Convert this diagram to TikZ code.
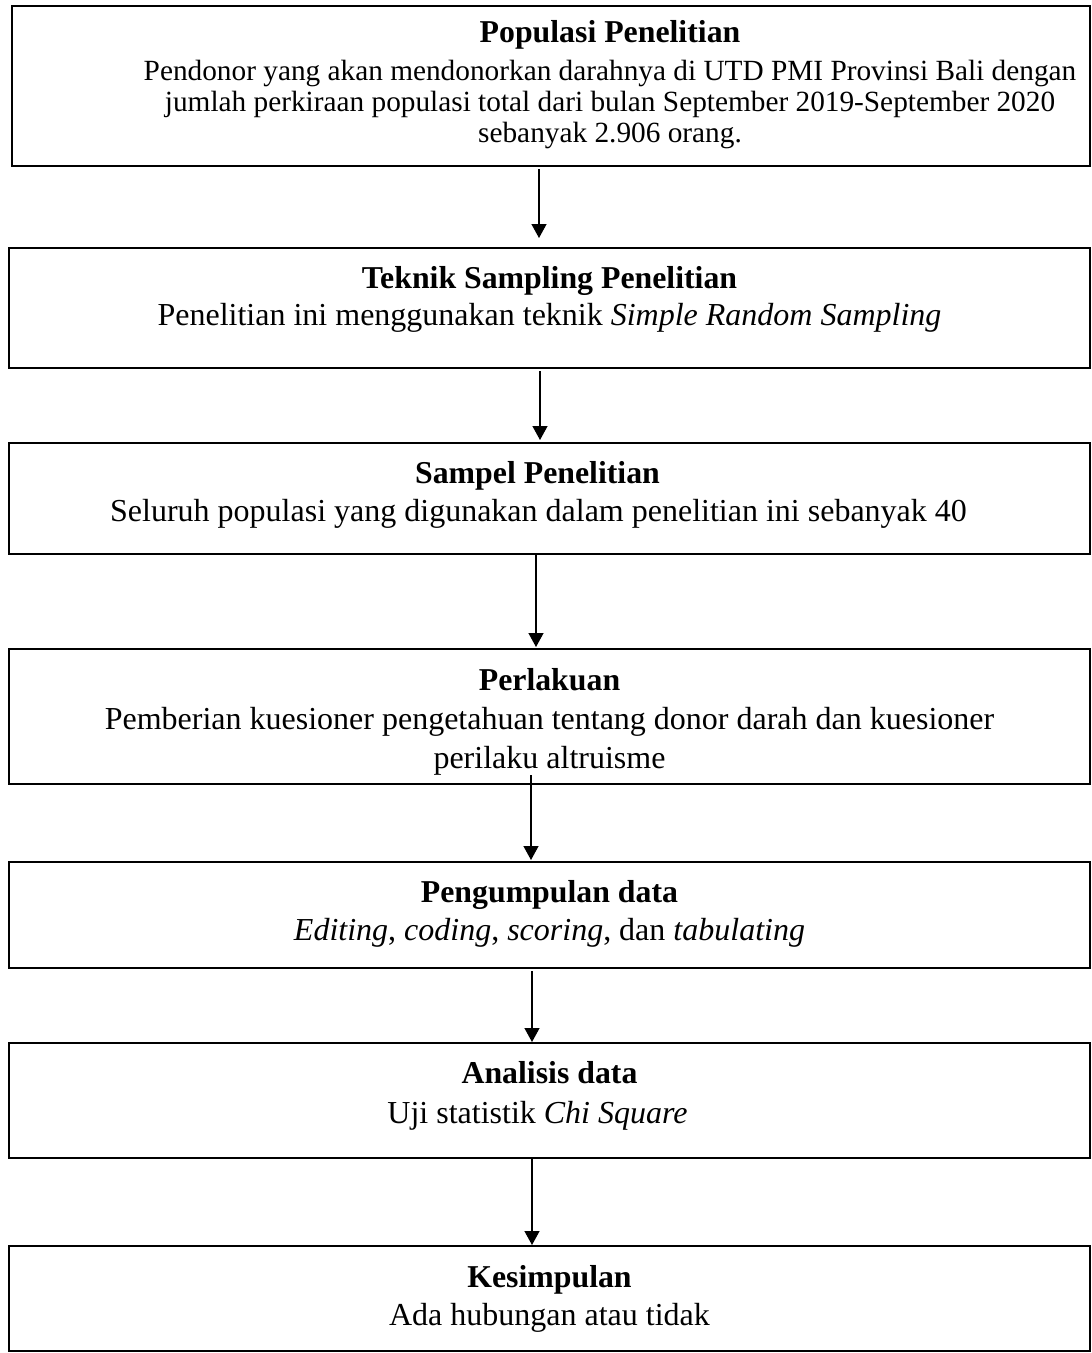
\documentclass[tikz,border=0pt]{standalone}
\usepackage{fontspec}
\setmainfont{Liberation Serif}
\usetikzlibrary{arrows.meta}

\begin{document}
\begin{tikzpicture}[x=1pt,y=-1pt,
flowbox/.style={draw,line width=2.5pt,rectangle,inner sep=0pt,outer sep=0pt,minimum width=1081pt},
ttl/.style={anchor=base,inner sep=0pt,font=\fontsize{31.8pt}{38pt}\selectfont\bfseries},
txt/.style={anchor=base,inner sep=0pt,align=center,font=\fontsize{32pt}{39pt}\selectfont},
arr/.style={-{Triangle[length=14pt,width=15pt]},line width=1.3pt}]
\clip (0,0) rectangle (1092,1353);
\node[flowbox,minimum width=1078pt,minimum height=160pt] (b1) at (551,86) {};
\node[flowbox,minimum height=120pt] (b2) at (549.5,308) {};
\node[flowbox,minimum height=111pt] (b3) at (549.5,498.5) {};
\node[flowbox,minimum height=135pt] (b4) at (549.5,716.5) {};
\node[flowbox,minimum height=106pt] (b5) at (549.5,915) {};
\node[flowbox,minimum height=115pt] (b6) at (549.5,1100.5) {};
\node[flowbox,minimum height=105pt] (b7) at (549.5,1298.5) {};
% the base of a multi-line text is its last line
\node[ttl] (t1) at ([xshift=59pt,yshift=-36pt]b1.north) {Populasi Penelitian};
\node[txt,font=\fontsize{29.3pt}{31pt}\selectfont] (d1) at ([xshift=59pt,yshift=-136pt]b1.north) {Pendonor yang akan mendonorkan darahnya di UTD PMI Provinsi Bali dengan\\jumlah perkiraan populasi total dari bulan September 2019-September 2020\\sebanyak 2.906 orang.};
\node[ttl] (t2) at ([yshift=-40pt]b2.north) {Teknik Sampling Penelitian};
\node[txt] (d2) at ([yshift=-77pt]b2.north) {Penelitian ini menggunakan teknik \textit{Simple Random Sampling}};
\node[ttl] (t3) at ([xshift=-12pt,yshift=-40pt]b3.north) {Sampel Penelitian};
\node[txt] (d3) at ([xshift=-11pt,yshift=-78pt]b3.north) {Seluruh populasi yang digunakan dalam penelitian ini sebanyak 40};
\node[ttl] (t4) at ([yshift=-41pt]b4.north) {Perlakuan};
\node[txt] (d4) at ([yshift=-119pt]b4.north) {Pemberian kuesioner pengetahuan tentang donor darah dan kuesioner\\perilaku altruisme};
\node[ttl] (t5) at ([yshift=-40pt]b5.north) {Pengumpulan data};
\node[txt] (d5) at ([yshift=-78pt]b5.north) {\textit{Editing}, \textit{coding}, \textit{scoring}, dan \textit{tabulating}};
\node[ttl] (t6) at ([yshift=-40pt]b6.north) {Analisis data};
\node[txt] (d6) at ([xshift=-12pt,yshift=-80pt]b6.north) {Uji statistik \textit{Chi Square}};
\node[ttl] (t7) at ([yshift=-41pt]b7.north) {Kesimpulan};
\node[txt] (d7) at ([yshift=-79pt]b7.north) {Ada hubungan atau tidak};
\draw[arr,shorten >=10pt] ([xshift=-12pt,yshift=-3pt]b1.south) -- ([xshift=-10.5pt]b2.north);
\draw[arr] ([xshift=-9.5pt,yshift=-3pt]b2.south) -- ([xshift=-9.5pt,yshift=3pt]b3.north);
\draw[arr] ([xshift=-13.5pt]b3.south) -- ([xshift=-13.5pt,yshift=2pt]b4.north);
\draw[arr] ([xshift=-18.5pt,yshift=9pt]b4.south) -- ([xshift=-18.5pt,yshift=2pt]b5.north);
\draw[arr] ([xshift=-17.5pt,yshift=-3pt]b5.south) -- ([xshift=-17.5pt,yshift=1pt]b6.north);
\draw[arr] ([xshift=-17.5pt]b6.south) -- ([xshift=-17.5pt,yshift=1pt]b7.north);
\end{tikzpicture}
\end{document}
